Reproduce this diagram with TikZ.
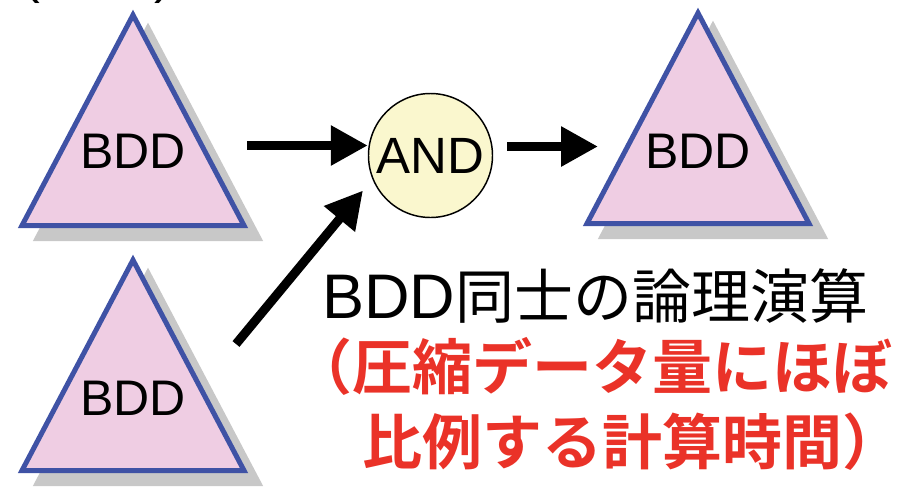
\documentclass[tikz,border=0pt]{standalone}
\usepackage{fontspec}
\setmainfont{Liberation Sans}
\newfontfamily\cjk{Noto Sans CJK JP}[BoldFont={Noto Sans CJK JP Bold}]
\usetikzlibrary{arrows.meta}
\definecolor{trifill}{RGB}{239,205,227}
\definecolor{triedge}{RGB}{63,82,165}
\definecolor{shadegray}{RGB}{200,200,200}
\definecolor{andfill}{RGB}{250,247,206}
\definecolor{redtxt}{RGB}{234,50,40}
\tikzset{
  bddshadow/.style={fill=shadegray,draw=shadegray,line width=3.75pt,line join=miter},
  bddtri/.style={fill=trifill,draw=triedge,line width=3.75pt,line join=miter},
  bddlabel/.style={inner sep=0pt,anchor=base,font=\fontsize{37.5}{40}\selectfont},
  fat/.style={line width=6.75pt,-{Triangle[length=27.75pt,width=28.5pt]}},
  redline/.style={inner sep=0pt,anchor=base west,text=redtxt,font=\cjk\bfseries\fontsize{45}{50}\selectfont},
}
\newcommand\bddtriangle[2]{%
  \filldraw[bddshadow] (#1+15,#2+18) -- (#1-96,#2+228.5) -- (#1+126,#2+228.5) -- cycle;
  \filldraw[bddtri] (#1,#2+5) -- (#1-111,#2+215.5) -- (#1+111,#2+215.5) -- cycle;}
\begin{document}
\begin{tikzpicture}[x=0.75pt,y=-0.75pt]
\useasboundingbox (0,0) rectangle (901,487);
% cut-off text at top
\node[inner sep=0pt,anchor=south,font=\fontsize{40}{40}\selectfont] (p1) at (31,3.5) {(};
\node[inner sep=0pt,anchor=south,font=\fontsize{40}{40}\selectfont] (p2) at (163,3.5) {)};
% triangles
\bddtriangle{133}{10}
\bddtriangle{133}{255}
\bddtriangle{698}{8}
\node[bddlabel] (t1) at (133,168) {BDD};
\node[bddlabel] (t2) at (133,415) {BDD};
\node[bddlabel] (t3) at (698,168) {BDD};
% AND gate
\node[circle,draw=black,line width=1.1pt,fill=andfill,inner sep=0pt,minimum size=93pt,
      font=\fontsize{38.25}{40}\selectfont] (and) at (430.5,155.5) {AND};
% arrows
\coordinate (a1) at (247,145.5);
\draw[fat] (a1) -- (a1 -| and.west);
\coordinate (a2e) at (598,146.5);
\draw[fat,shorten <=10.5pt] (and.east |- a2e) -- (a2e);
\coordinate (d1) at (236,344);
\coordinate (dtip) at (363,190.5);
\draw[fat] (d1) -- (dtip);
% captions
\node[inner sep=0pt,anchor=base west] (cap) at (322,318)
  {\fontsize{47.25}{50}\selectfont BDD{\cjk\fontsize{44.25}{50}\selectfont 同士の論理演算}};
\node[redline] (r1) at (292,389) {（圧縮データ量にほぼ};
\node[redline] (r2) at (362,464) {比例する計算時間）};
\end{tikzpicture}
\end{document}
